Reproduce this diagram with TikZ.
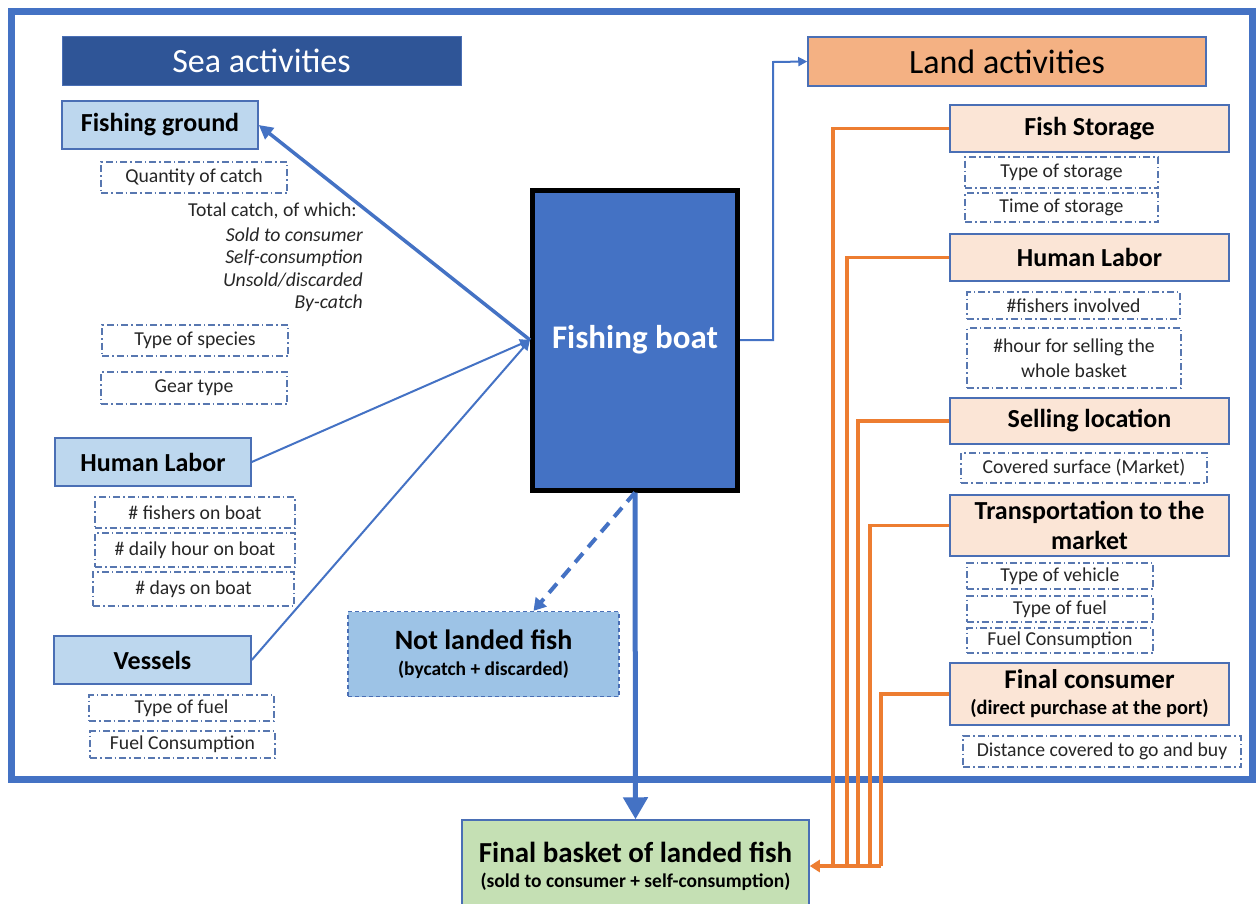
\documentclass[tikz,border=0pt]{standalone}
\usepackage{fontspec}
\setmainfont{Carlito}
\usetikzlibrary{arrows.meta}
\definecolor{frameblue}{HTML}{4472C4}
\definecolor{headblue}{HTML}{2F5597}
\definecolor{lightblue}{HTML}{BDD7EE}
\definecolor{midblue}{HTML}{9DC3E6}
\definecolor{edgeblue}{HTML}{4A6FB5}
\definecolor{dashblue}{HTML}{5877B0}
\definecolor{orangefill}{HTML}{F4B183}
\definecolor{peach}{HTML}{FBE5D6}
\definecolor{orangeline}{HTML}{ED7D31}
\definecolor{greenfill}{HTML}{C5E0B4}
\definecolor{txtgray}{HTML}{262626}
\newcommand{\fs}[1]{\fontsize{#1}{#1}\selectfont}
\tikzset{
  mainbox/.style={draw=edgeblue, line width=1.5pt, fill=lightblue, inner sep=0pt, align=center, font=\fs{26}\bfseries},
  landbox/.style={draw=edgeblue, line width=1.5pt, fill=peach, inner sep=0pt, align=center, font=\fs{26}\bfseries},
  attrbox/.style={draw=dashblue, line width=1.3pt, dash pattern=on 7pt off 3pt on 1.5pt off 3pt, inner sep=0pt, align=center, font=\fs{19.7}, text=txtgray},
  italictext/.style={anchor=east, inner sep=0pt, font=\fs{19.7}\itshape, text=txtgray},
  blueline/.style={draw=frameblue, line width=2pt},
  orl/.style={draw=orangeline, line width=3.5pt},
}
\begin{document}
\begin{tikzpicture}[x=1pt,y=-1pt]
\useasboundingbox (0,0) rectangle (1256,903);
% outer frame
\draw[frameblue, line width=7pt] (11,11) rectangle (1252,779);

% headers
\node[fill=headblue, draw=edgeblue, line width=1pt, minimum width=399pt, minimum height=49pt, inner sep=0pt, text=white, font=\fs{34}] (sea) at (261.5,60.5) {Sea activities};
\node[fill=orangefill, draw=edgeblue, line width=1.5pt, minimum width=398pt, minimum height=49pt, inner sep=0pt, text=black, font=\fs{34}] (land) at (1007,61.5) {Land activities};

% left column
\node[mainbox, minimum width=196pt, minimum height=48pt] (fishground) at (160,125) {Fishing ground};
\node[attrbox, minimum width=186pt, minimum height=31pt] (qty) at (194,177.5) {Quantity of catch};
\node[italictext, font=\fs{19.7}] (total) at (357,211) {Total catch, of which:};
\node[italictext] (sold) at (363,235) {Sold to consumer};
\node[italictext] (self) at (363,258) {Self-consumption};
\node[italictext] (unsold) at (363,280) {Unsold/discarded};
\node[italictext] (bycatch) at (363,303) {By-catch};
\node[attrbox, minimum width=186pt, minimum height=31pt] (species) at (195,340.5) {Type of species};
\node[attrbox, minimum width=186pt, minimum height=32pt] (gear) at (194,388) {Gear type};

\node[mainbox, minimum width=196pt, minimum height=48pt] (humanL) at (153,462) {Human Labor};
\node[attrbox, minimum width=200pt, minimum height=31pt] (fishers) at (195,512.5) {\# fishers on boat};
\node[attrbox, minimum width=200pt, minimum height=34pt] (daily) at (195,550) {\# daily hour on boat};
\node[attrbox, minimum width=201pt, minimum height=34pt] (days) at (193.5,589) {\# days on boat};

\node[mainbox, minimum width=197pt, minimum height=48pt] (vessels) at (152.5,660) {Vessels};
\node[attrbox, minimum width=185pt, minimum height=26pt] (fuelL) at (181.5,708) {Type of fuel};
\node[attrbox, minimum width=185pt, minimum height=27pt] (fuelconsL) at (182.5,744.5) {Fuel Consumption};

% boat
\node[fill=frameblue, draw=black, line width=5pt, minimum width=205pt, minimum height=300pt, inner sep=0pt, text=white, font=\fs{33}\bfseries] (boat) at (635,340) {Fishing boat};

% not landed
\node[fill=midblue, draw=edgeblue, line width=1.3pt, dash pattern=on 4pt off 3pt, minimum width=271pt, minimum height=85pt, inner sep=0pt, align=center] (notlanded) at (483.5,654) {{\fs{28}\bfseries Not landed fish}\\[10pt]{\fs{19.5}\bfseries (bycatch + discarded)}};

% basket
\node[fill=greenfill, draw=edgeblue, line width=1.5pt, minimum width=347pt, minimum height=92pt, inner sep=0pt, align=center] (basket) at (635.5,866) {{\fs{29}\bfseries Final basket of landed fish}\\[9.5pt]{\fs{19.5}\bfseries (sold to consumer + self-consumption)}};

% right column
\node[landbox, minimum width=279pt, minimum height=47pt] (storage) at (1089.5,128.5) {Fish Storage};
\node[attrbox, minimum width=193pt, minimum height=31pt] (typestorage) at (1061.5,172.5) {Type of storage};
\node[attrbox, minimum width=193pt, minimum height=29pt] (timestorage) at (1061.5,207.5) {Time of storage};
\node[landbox, minimum width=279pt, minimum height=47pt] (humanR) at (1089.5,257.5) {Human Labor};
\node[attrbox, minimum width=213pt, minimum height=27pt] (fishinv) at (1073.5,305.5) {\#fishers involved};
\node[attrbox, minimum width=214pt, minimum height=60pt] (hoursell) at (1074,358) {\#hour for selling the\\[5pt]whole basket};
\node[landbox, minimum width=279pt, minimum height=46pt] (sellloc) at (1089.5,421) {Selling location};
\node[attrbox, minimum width=246pt, minimum height=30pt] (covered) at (1084,468) {Covered surface (Market)};
\node[landbox, minimum width=279pt, minimum height=61pt] (transport) at (1089.5,525.5) {Transportation to the\\[4pt]market};
\node[attrbox, minimum width=186pt, minimum height=26pt] (vehicle) at (1060,576) {Type of vehicle};
\node[attrbox, minimum width=186pt, minimum height=26pt] (fuelR) at (1060,609) {Type of fuel};
\node[attrbox, minimum width=186pt, minimum height=25pt] (fuelconsR) at (1060,640.5) {Fuel Consumption};
\node[landbox, font=\fs{27}\bfseries, minimum width=279pt, minimum height=62pt] (finalcons) at (1089.5,694) {Final consumer\\[-1pt]{\fs{20.4}\bfseries (direct purchase at the port)}};
\node[attrbox, minimum width=278pt, minimum height=31pt] (distance) at (1102,751.5) {Distance covered to go and buy};

% connectors (blue)
\draw[blueline, line width=3.5pt, -{Triangle[length=14pt,width=14pt]}] (boat.west) -- (fishground.east);
\draw[blueline, -{Triangle[length=10pt,width=10pt]}] (humanL.east) -- (boat.west);
\draw[blueline, -{Triangle[length=10pt,width=10pt]}] (vessels.east) -- (boat.west);
\draw[blueline, -{Triangle[length=9pt,width=9pt]}] (boat.east) -- (773,340) -- (773,62) -- (land.west);
\draw[blueline, line width=5pt, -{Triangle[length=22pt,width=24pt]}] (boat.south) -- (basket.north);
\draw[blueline, line width=4pt, dash pattern=on 12pt off 8pt, -{Triangle[length=12pt,width=14pt]}] (boat.south) -- ([xshift=50pt]notlanded.north);

% connectors (orange)
\draw[orl] (storage.west) -| ([xshift=23pt]basket.east);
\draw[orl] (humanR.west) -| ([xshift=37pt]basket.east);
\draw[orl] (sellloc.west) -| ([xshift=48pt]basket.east);
\draw[orl] (transport.west) -| ([xshift=60pt]basket.east);
\draw[orl] (finalcons.west) -| ([xshift=71pt]basket.east);
\draw[orl, -{Triangle[length=10pt,width=12pt]}] ([xshift=71pt]basket.east) -- (basket.east);
\end{tikzpicture}
\end{document}
